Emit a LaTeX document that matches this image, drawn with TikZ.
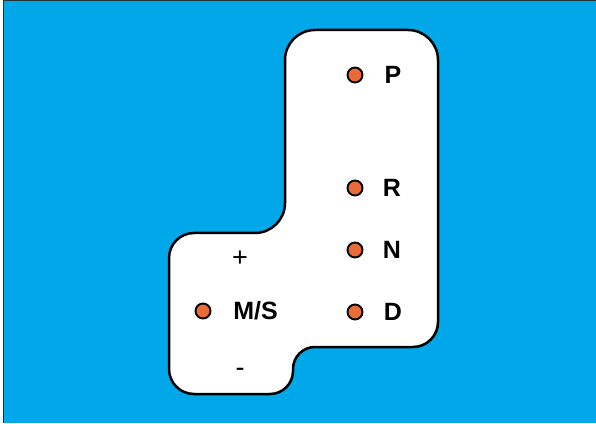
\documentclass[tikz,border=0pt]{standalone}
\usepackage{fontspec}
\setmainfont{Liberation Sans}
\definecolor{bgblue}{RGB}{0,168,234}
\definecolor{dotorange}{RGB}{233,108,56}
\definecolor{framedark}{RGB}{35,50,55}
\begin{document}
\begin{tikzpicture}[x=1pt,y=1pt,
  gear/.style={font=\fontsize{25}{25}\selectfont\bfseries, inner sep=0pt},
  sign/.style={font=\fontsize{27}{27}\selectfont, inner sep=0pt},
  dot/.style={circle, draw=black, line width=1.9pt, fill=dotorange, minimum size=15pt, inner sep=0pt}]
\useasboundingbox (0,0) rectangle (596,423);
\fill[white] (0,0) rectangle (596,423);
\fill[bgblue] (3,0) rectangle (596,422.5);
\draw[framedark, line width=1.6pt] (3.6,0) -- (3.6,422.3) -- (596,422.3);
% gate outline
\draw[black, line width=2.5pt, fill=white]
  (285,363) arc (180:90:30) -- (408,393) arc (90:0:30)
  -- (438,101) arc (0:-90:25)
  -- (315,76) arc (90:180:22)
  -- (293,52) arc (0:-90:23)
  -- (194,29) arc (270:180:25)
  -- (169,165) arc (180:90:25)
  -- (255,190) arc (-90:0:30) -- cycle;
% dots
\node[dot] (dP) at (355,348) {};
\node[dot] (dR) at (355,235) {};
\node[dot] (dN) at (355,173) {};
\node[dot] (dD) at (355,111) {};
\node[dot] (dM) at (203,112) {};
% labels
\node[gear] (lP) at (393,348) {P};
\node[gear] (lR) at (392,235) {R};
\node[gear] (lN) at (392,173) {N};
\node[gear] (lD) at (393,111) {D};
\node[gear] (lM) at (255.5,112) {M/S};
\node[sign] (lplus) at (240,164) {+};
\node[sign] (lminus) at (240,51) {-};
\end{tikzpicture}
\end{document}
